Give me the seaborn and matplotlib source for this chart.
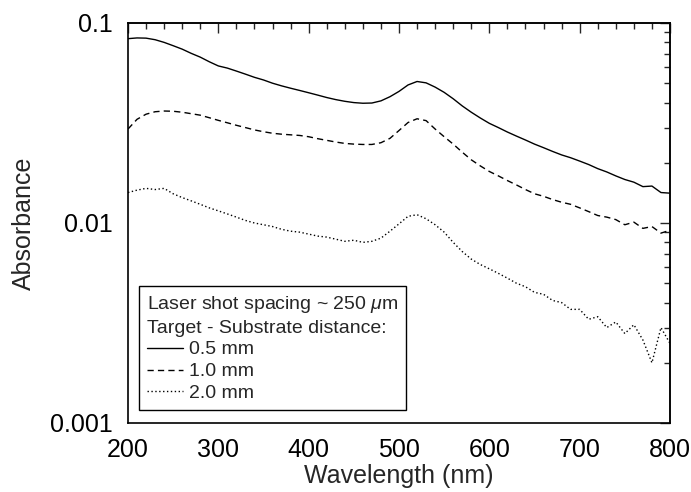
import numpy as np
import pandas as pd
import seaborn as sns
import matplotlib
matplotlib.use("Agg")
import matplotlib.pyplot as plt
from matplotlib.ticker import FixedLocator, MultipleLocator, LogLocator, NullFormatter, FixedFormatter

wavelength = list(range(200, 801, 10))

abs_05mm = [0.0835, 0.0842, 0.0840, 0.0825, 0.0800, 0.0770, 0.0740, 0.0705, 0.0675, 0.0640,
            0.0610, 0.0595, 0.0575, 0.0555, 0.0535, 0.0519, 0.0500, 0.0485, 0.0472, 0.0460,
            0.0448, 0.0436, 0.0424, 0.0414, 0.0406, 0.0400, 0.0397, 0.0398, 0.0408, 0.0428,
            0.0455, 0.0490, 0.0510, 0.0502, 0.0478, 0.0450, 0.0418, 0.0385, 0.0358, 0.0335,
            0.0315, 0.0300, 0.0285, 0.0272, 0.0260, 0.0248, 0.0238, 0.0228, 0.0219, 0.0212,
            0.0204, 0.0196, 0.0187, 0.0180, 0.0172, 0.0165, 0.0160, 0.0152, 0.0153, 0.0142,
            0.0141]

abs_10mm = [0.0295, 0.0330, 0.0350, 0.0360, 0.0363, 0.0362, 0.0358, 0.0352, 0.0346, 0.0336,
            0.0326, 0.0317, 0.0308, 0.0300, 0.0292, 0.0286, 0.0281, 0.0278, 0.0276, 0.0274,
            0.0270, 0.0264, 0.0259, 0.0254, 0.0250, 0.0248, 0.0247, 0.0247, 0.0252, 0.0265,
            0.0290, 0.0318, 0.0332, 0.0325, 0.0295, 0.0270, 0.0248, 0.0226, 0.0207, 0.0193,
            0.0181, 0.0172, 0.0163, 0.0155, 0.0147, 0.0140, 0.0136, 0.0131, 0.0127, 0.0124,
            0.0119, 0.0114, 0.0109, 0.0107, 0.0104, 0.0098, 0.0101, 0.0094, 0.0096, 0.0089,
            0.0092]

abs_20mm = [0.0142, 0.0146, 0.0149, 0.0147, 0.0149, 0.0140, 0.0134, 0.0129, 0.0124, 0.0119,
            0.0115, 0.0111, 0.0107, 0.0103, 0.0100, 0.0098, 0.0096, 0.0093, 0.0091, 0.0090,
            0.0088, 0.0086, 0.0085, 0.0083, 0.0081, 0.0082, 0.0080, 0.0081, 0.0084, 0.0091,
            0.0099, 0.0108, 0.0110, 0.0105, 0.0098, 0.0090, 0.0080, 0.0072, 0.0066, 0.0062,
            0.0059, 0.0056, 0.0053, 0.0050, 0.0048, 0.0045, 0.0044, 0.0041, 0.0040, 0.0037,
            0.0037, 0.0033, 0.0034, 0.0030, 0.0032, 0.0028, 0.0031, 0.0026, 0.0020, 0.0030,
            0.0025]

series_labels = ["0.5 mm", "1.0 mm", "2.0 mm"]
legend_title = "Laser shot spacing ~ 250 $\\mu$m\nTarget - Substrate distance:"
x_ticks = [200, 300, 400, 500, 600, 700, 800]
y_ticks = [0.001, 0.01, 0.1]
y_tick_labels = ["0.001", "0.01", "0.1"]

sns.set_style("white")
plt.rcParams["font.family"] = ["Liberation Sans", "DejaVu Sans"]
plt.rcParams["mathtext.fontset"] = "custom"
plt.rcParams["mathtext.it"] = "Liberation Sans:italic"
plt.rcParams["mathtext.rm"] = "Liberation Sans"

df = pd.concat([
    pd.DataFrame({"Wavelength": wavelength, "Absorbance": vals, "Distance": lab})
    for vals, lab in zip([abs_05mm, abs_10mm, abs_20mm], series_labels)
], ignore_index=True)

fig = plt.figure(figsize=(6.91, 4.92), dpi=100)
ax = fig.add_axes([128/691, 1-423/492, 542/691, 400/492])

sns.lineplot(data=df, x="Wavelength", y="Absorbance", style="Distance",
             style_order=series_labels,
             dashes={"0.5 mm": "", "1.0 mm": (4.5, 3), "2.0 mm": (1, 1.8)},
             color="black", linewidth=1.0, legend=False, ax=ax, estimator=None)

ax.set_yscale("log")
ax.set_xlim(200, 800)
ax.set_ylim(0.001, 0.1)

ax.xaxis.set_major_locator(FixedLocator(x_ticks))
ax.xaxis.set_minor_locator(MultipleLocator(20))
ax.yaxis.set_major_locator(FixedLocator(y_ticks))
ax.yaxis.set_major_formatter(FixedFormatter(y_tick_labels))
ax.yaxis.set_minor_locator(LogLocator(base=10, subs=np.arange(2, 10)))
ax.yaxis.set_minor_formatter(NullFormatter())

ax.tick_params(axis="both", which="major", direction="out", length=7, width=1,
               labelsize=18, colors="black", pad=4)
ax.tick_params(axis="both", which="minor", direction="out", length=4, width=1, colors="black")
for s in ax.spines.values():
    s.set_visible(True)
    s.set_color("black")
    s.set_linewidth(1.2)

# mirrored inward ticks on top / right
secx = ax.secondary_xaxis("top")
secx.xaxis.set_major_locator(FixedLocator(x_ticks))
secx.xaxis.set_minor_locator(MultipleLocator(20))
secx.tick_params(which="major", direction="in", length=7, width=1, labeltop=False)
secx.tick_params(which="minor", direction="in", length=4, width=1)
secx.spines["top"].set_linewidth(1.2)

secy = ax.secondary_yaxis("right")
secy.yaxis.set_major_locator(FixedLocator(y_ticks))
secy.yaxis.set_minor_locator(LogLocator(base=10, subs=np.arange(2, 10)))
secy.yaxis.set_minor_formatter(NullFormatter())
secy.tick_params(which="major", direction="in", length=7, width=1, labelright=False)
secy.tick_params(which="minor", direction="in", length=4, width=1)
secy.spines["right"].set_linewidth(1.2)

ax.set_xlabel("Wavelength (nm)", fontsize=18, labelpad=1)
ax.set_ylabel("Absorbance", fontsize=18, labelpad=10)

handles = ax.get_lines()[:3]
leg = ax.legend(handles, series_labels, title=legend_title, alignment="left",
                loc="lower left", bbox_to_anchor=(11/542, 13/400),
                borderaxespad=0, frameon=True, fancybox=False, edgecolor="black",
                fontsize=14, title_fontsize=14, handlelength=1.85, handletextpad=0.3,
                labelspacing=0.22, borderpad=0.4)
leg.get_title().set_linespacing(1.35)
leg.get_frame().set_linewidth(1.0)
leg.get_frame().set_alpha(1)

fig.savefig("out.png", dpi=100)
